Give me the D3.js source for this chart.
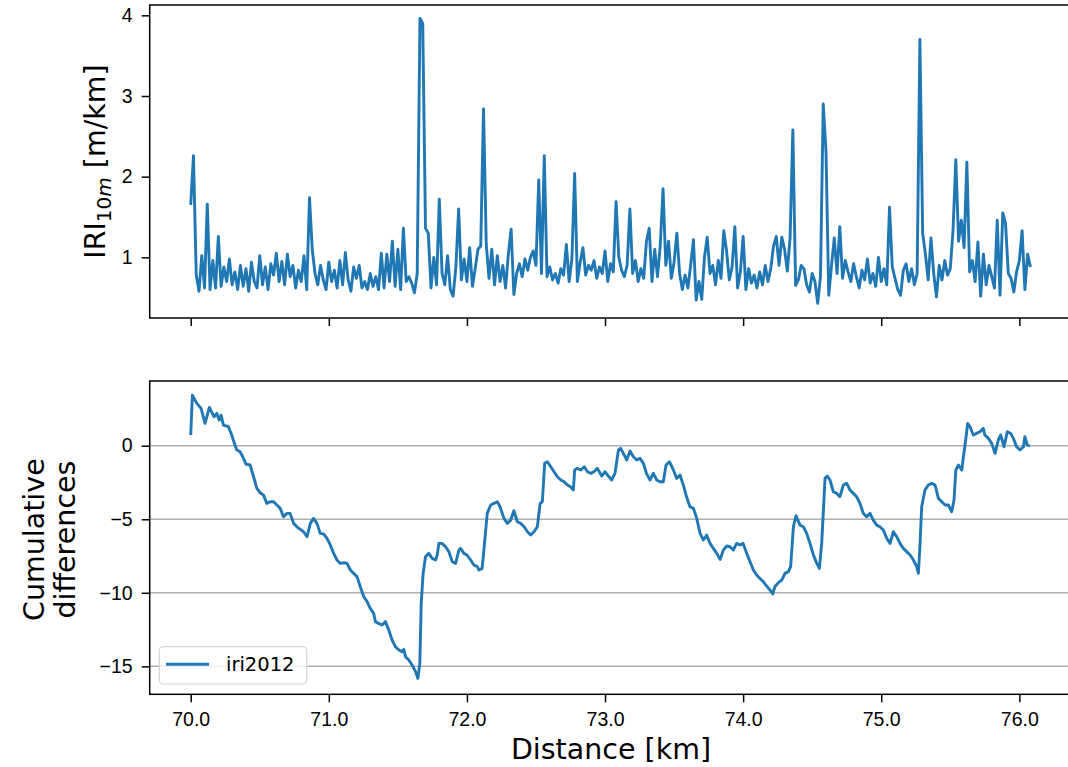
<!DOCTYPE html>
<html lang="en">
<head>
  <meta charset="UTF-8" />
  <title>IRI and cumulative differences</title>
  <style>
    body {
      margin: 0;
      background: #fff;
    }
    svg {
      display: block;
      font-family: 'DejaVu Sans', sans-serif;
    }
    .tick text {
      font-size: 19.5px;
      fill: #000;
    }
    .tick line {
      stroke: #000;
      stroke-width: 1.5px;
    }
    .frame {
      fill: none;
      stroke: #000;
      stroke-width: 1.5px;
    }
    .grid {
      stroke: #b0b0b0;
      stroke-width: 1.5px;
    }
    .series {
      fill: none;
      stroke: #1f77b4;
      stroke-width: 2.9px;
      stroke-linejoin: round;
    }
    .label {
      font-size: 28.5px;
      fill: #000;
    }
  </style>
</head>
<body>
  <svg id="chart" width="1068" height="767"></svg>

  <script src="https://cdnjs.cloudflare.com/ajax/libs/d3/7.8.5/d3.min.js"></script>
  <script>
    const iriStartKm = 70.0;
    const iriStepKm = 0.02;
    const iriValues = [
      1.65, 2.26, 0.78, 0.58, 1.02,  0.62, 1.66, 0.60, 0.96, 0.62,
      1.26, 0.64, 0.88, 0.70, 0.98,  0.66, 0.82, 0.60, 0.90, 0.64,
      0.86, 0.58, 0.94, 0.70, 0.62,  1.02, 0.66, 0.88, 0.60, 0.92,
      0.78, 1.05, 0.70, 0.95, 0.66,  1.04, 0.76, 0.90, 0.62, 0.84,
      0.70, 1.02, 0.60, 1.74, 1.10,  0.80, 0.66, 0.90, 0.72, 0.60,
      0.94, 0.70, 0.84, 0.62, 0.96,  0.66, 1.06, 0.72, 0.58, 0.88,
      0.74, 0.90, 0.62, 0.70, 0.60,  0.80, 0.64, 0.76, 0.60, 1.05,
      0.62, 1.04, 0.70, 1.20, 0.64,  1.10, 0.60, 1.36, 0.70, 0.76,
      0.68, 0.56, 0.80, 3.96, 3.90,  1.36, 1.30, 0.62, 1.00, 0.66,
      1.72, 0.80, 0.66, 1.02, 0.60,  0.52, 0.88, 1.60, 0.72, 0.98,
      0.70, 1.12, 0.64, 0.86, 1.10,  1.14, 2.84, 1.16, 0.74, 1.10,
      0.66, 1.02, 0.70, 0.90, 0.62,  1.04, 1.35, 0.54, 0.80, 0.92,
      0.76, 0.98, 0.84, 1.00, 1.08,  0.90, 1.96, 0.80, 2.26, 0.76,
      0.88, 0.72, 0.80, 0.68, 0.86,  0.78, 1.16, 0.70, 0.98, 2.04,
      0.70, 0.94, 1.12, 0.78, 0.90,  0.84, 0.96, 0.74, 0.88, 0.80,
      1.08, 0.70, 0.92, 0.82, 1.69,  1.00, 0.84, 0.76, 0.90, 1.60,
      0.80, 0.96, 0.70, 0.86, 0.74,  1.20, 1.36, 0.70, 1.10, 0.76,
      1.15, 1.85, 0.90, 1.20, 0.74,  0.94, 1.30, 0.80, 0.60, 0.78,
      0.62, 0.90, 1.22, 0.47, 0.70,  0.48, 1.00, 1.25, 0.80, 0.90,
      0.66, 0.96, 0.74, 1.33, 1.08,  0.72, 0.88, 1.38, 0.62, 0.82,
      1.26, 0.60, 0.86, 0.68, 0.78,  0.62, 0.82, 0.66, 0.90, 0.70,
      0.86, 1.14, 1.26, 0.90, 1.25,  1.10, 0.83, 1.24, 2.58, 0.65,
      0.72, 0.90, 0.86, 0.66, 0.57,  0.80, 0.70, 0.43, 0.76, 2.90,
      2.31, 0.53, 0.90, 1.24, 0.80,  1.38, 0.74, 0.96, 0.82, 0.70,
      0.92, 0.76, 0.62, 0.84, 0.72,  0.98, 0.68, 0.80, 0.64, 1.00,
      0.70, 0.86, 0.66, 1.62, 0.88,  0.74, 0.60, 0.53, 0.84, 0.92,
      0.70, 0.86, 0.66, 0.80, 3.70,  1.30, 1.04, 0.72, 1.24, 0.80,
      0.51, 0.90, 0.72, 0.96, 0.78,  0.86, 1.34, 2.21, 1.20, 1.46,
      1.12, 2.18, 0.82, 0.96, 0.70,  1.19, 0.52, 1.04, 0.66, 0.90,
      0.76, 0.62, 1.46, 0.53, 1.55,  1.42, 0.80, 0.74, 0.57, 0.82,
      0.96, 1.33, 0.60, 1.04, 0.88
    ];

    // cumulative differences, [km, value]
    const cumPoints = [
      [70.000, 0.73], [70.012, 3.44], [70.044, 2.88], [70.075, 2.54], [70.104, 1.52], [70.135, 2.60], [70.169, 1.97], [70.189, 2.20], [70.206, 1.74], [70.220, 2.08],
      [70.237, 1.40], [70.273, 1.29], [70.297, 0.73], [70.320, 0.05], [70.334, -0.29], [70.358, -0.41], [70.382, -0.86], [70.400, -1.25], [70.430, -1.31], [70.455, -2.11],
      [70.479, -2.90], [70.503, -3.20], [70.527, -3.36], [70.551, -3.92], [70.575, -3.81], [70.600, -3.81], [70.624, -4.03], [70.648, -4.26], [70.672, -4.83], [70.697, -4.60],
      [70.720, -4.60], [70.745, -5.28], [70.769, -5.51], [70.793, -5.69], [70.817, -5.85], [70.842, -6.19], [70.866, -5.28], [70.890, -4.94], [70.914, -5.28], [70.938, -5.96],
      [70.962, -6.00], [70.987, -6.30], [71.011, -6.75], [71.035, -7.32], [71.059, -7.77], [71.083, -8.00], [71.108, -7.96], [71.132, -8.00], [71.156, -8.45], [71.180, -8.68],
      [71.204, -8.90], [71.228, -9.59], [71.253, -10.27], [71.277, -10.60], [71.300, -11.06], [71.325, -11.40], [71.337, -11.96], [71.360, -12.08], [71.386, -12.19], [71.410, -11.96],
      [71.434, -12.53], [71.458, -13.21], [71.482, -13.66], [71.507, -13.89], [71.530, -14.00], [71.543, -13.85], [71.555, -14.34], [71.579, -14.57], [71.603, -14.91], [71.628, -15.36],
      [71.645, -15.82], [71.659, -14.80], [71.669, -10.72], [71.683, -8.68], [71.700, -7.55], [71.724, -7.32], [71.748, -7.66], [71.773, -7.77], [71.785, -7.43], [71.797, -6.64],
      [71.820, -6.64], [71.845, -6.87], [71.869, -7.20], [71.894, -7.89], [71.918, -8.00], [71.942, -7.09], [71.954, -6.98], [71.978, -7.32], [72.000, -7.43], [72.027, -7.77],
      [72.050, -8.11], [72.075, -8.22], [72.087, -8.45], [72.110, -8.34], [72.123, -7.09], [72.147, -4.60], [72.172, -4.03], [72.196, -3.92], [72.220, -3.81], [72.240, -4.15],
      [72.268, -4.94], [72.293, -5.28], [72.317, -5.06], [72.340, -4.42], [72.365, -5.17], [72.389, -5.28], [72.414, -5.51], [72.438, -5.85], [72.462, -6.07], [72.486, -5.85],
      [72.510, -5.51], [72.530, -3.92], [72.546, -3.81], [72.563, -1.20], [72.583, -1.09], [72.607, -1.43], [72.631, -1.77], [72.655, -2.11], [72.680, -2.33], [72.704, -2.45],
      [72.728, -2.67], [72.750, -2.79], [72.771, -3.01], [72.780, -1.65], [72.800, -1.54], [72.825, -1.65], [72.850, -1.43], [72.873, -1.77], [72.897, -1.88], [72.920, -1.77],
      [72.945, -1.54], [72.976, -2.06], [73.000, -1.77], [73.024, -2.06], [73.048, -2.33], [73.072, -1.88], [73.097, -0.29], [73.113, -0.18], [73.133, -0.52], [73.157, -0.97],
      [73.181, -0.36], [73.205, -0.75], [73.230, -0.97], [73.253, -0.86], [73.278, -1.20], [73.300, -1.88], [73.326, -2.33], [73.350, -1.88], [73.374, -2.33], [73.398, -2.45],
      [73.422, -2.45], [73.442, -1.31], [73.466, -1.09], [73.495, -1.65], [73.519, -2.22], [73.543, -2.00], [73.567, -2.67], [73.590, -3.47], [73.615, -4.15], [73.640, -4.26],
      [73.664, -4.94], [73.688, -5.96], [73.712, -6.41], [73.736, -6.07], [73.760, -6.64], [73.784, -6.98], [73.809, -7.32], [73.833, -7.73], [73.857, -7.09], [73.881, -6.82],
      [73.905, -6.87], [73.929, -7.09], [73.953, -6.64], [73.978, -6.75], [74.000, -6.64], [74.026, -7.32], [74.050, -7.89], [74.074, -8.45], [74.098, -8.79], [74.122, -9.02],
      [74.147, -9.25], [74.170, -9.54], [74.195, -9.82], [74.214, -10.08], [74.230, -9.59], [74.255, -9.31], [74.280, -9.13], [74.303, -8.68], [74.328, -8.56], [74.344, -8.22],
      [74.364, -5.50], [74.383, -4.76], [74.412, -5.40], [74.436, -5.51], [74.460, -5.96], [74.484, -6.64], [74.509, -7.43], [74.533, -8.00], [74.552, -8.34], [74.569, -6.64],
      [74.593, -2.22], [74.610, -2.06], [74.629, -2.33], [74.653, -3.13], [74.678, -3.24], [74.700, -3.47], [74.726, -2.67], [74.750, -2.56], [74.774, -3.01], [74.798, -3.24],
      [74.822, -3.47], [74.846, -3.92], [74.870, -4.60], [74.895, -4.83], [74.919, -4.60], [74.943, -5.06], [74.967, -5.40], [74.990, -5.51], [75.015, -5.73], [75.040, -6.30],
      [75.064, -6.64], [75.088, -5.85], [75.112, -6.19], [75.136, -6.64], [75.160, -6.98], [75.184, -7.20], [75.209, -7.43], [75.233, -7.77], [75.257, -8.22], [75.269, -8.68],
      [75.280, -6.87], [75.293, -4.15], [75.317, -3.00], [75.341, -2.67], [75.365, -2.56], [75.390, -2.67], [75.414, -3.58], [75.438, -3.81], [75.462, -4.03], [75.486, -4.03],
      [75.510, -4.49], [75.527, -3.70], [75.540, -1.65], [75.559, -1.31], [75.583, -1.65], [75.595, -0.75], [75.607, 0.05], [75.626, 1.52], [75.643, 1.29], [75.667, 0.73],
      [75.690, 0.84], [75.715, 0.95], [75.739, 1.18], [75.750, 0.73], [75.776, 0.50], [75.800, 0.16], [75.824, -0.52], [75.848, 0.39], [75.865, 0.73], [75.889, -0.07],
      [75.913, 0.95], [75.937, 0.84], [75.957, 0.50], [75.980, -0.07], [76.005, -0.29], [76.030, -0.07], [76.040, 0.61], [76.058, 0.05], [76.077, -0.02]
    ];

    const xTicks = [70, 71, 72, 73, 74, 75, 76];
    const iriTicks = [1, 2, 3, 4];
    const cumTicks = [-15, -10, -5, 0];
    const seriesName = "iri2012";

    // axis limits as seen on the figure
    const xDomain = [69.703, 76.39];
    const iriDomain = [0.248, 4.128];
    const cumDomain = [-16.90, 4.40];

    const left = 149.7, right = 1073.2;
    const top1 = 5, bottom1 = 318;
    const top2 = 381, bottom2 = 694.3;

    const svg = d3.select("#chart");

    const x = d3.scaleLinear().domain(xDomain).range([left, right]);
    const yIri = d3.scaleLinear().domain(iriDomain).range([bottom1, top1]);
    const yCum = d3.scaleLinear().domain(cumDomain).range([bottom2, top2]);

    const iriData = iriValues.map((v, i) => ({ km: iriStartKm + i * iriStepKm, v }));
    const cumData = cumPoints.map(([km, v]) => ({ km, v }));

    function styleAxis(g) {
      g.select(".domain").remove();
      g.selectAll(".tick text").attr("font-family", null).attr("font-size", null);
    }

    // ---- top panel ----
    svg.append("g")
      .attr("transform", `translate(0,${bottom1})`)
      .call(d3.axisBottom(x).tickValues(xTicks).tickSize(8).tickFormat(""))
      .call(styleAxis);

    svg.append("g")
      .attr("transform", `translate(${left},0)`)
      .call(d3.axisLeft(yIri).tickValues(iriTicks).tickSize(8).tickPadding(9).tickFormat(d3.format("d")))
      .call(styleAxis);

    svg.append("path")
      .datum(iriData)
      .attr("class", "series")
      .attr("d", d3.line().x(d => x(d.km)).y(d => yIri(d.v)));

    svg.append("rect")
      .attr("class", "frame")
      .attr("x", left).attr("y", top1)
      .attr("width", right - left).attr("height", bottom1 - top1);

    svg.append("text")
      .attr("class", "label")
      .attr("text-anchor", "middle")
      .attr("transform", `translate(105,${(top1 + bottom1) / 2}) rotate(-90)`)
      .call(t => {
        t.append("tspan").text("IRI");
        t.append("tspan").attr("dy", 6).attr("font-size", 20).text("10");
        t.append("tspan").attr("font-size", 20).attr("font-style", "italic").text("m");
        t.append("tspan").attr("dy", -6).text(" [m/km]");
      });

    // ---- bottom panel ----
    svg.append("g")
      .selectAll("line")
      .data(cumTicks)
      .join("line")
      .attr("class", "grid")
      .attr("x1", left).attr("x2", right)
      .attr("y1", d => yCum(d)).attr("y2", d => yCum(d));

    svg.append("g")
      .attr("transform", `translate(0,${bottom2})`)
      .call(d3.axisBottom(x).tickValues(xTicks).tickSize(8).tickPadding(9.5).tickFormat(d3.format(".1f")))
      .call(styleAxis);

    svg.append("g")
      .attr("transform", `translate(${left},0)`)
      .call(d3.axisLeft(yCum).tickValues(cumTicks).tickSize(8).tickPadding(9).tickFormat(d3.format("d")))
      .call(styleAxis);

    svg.append("path")
      .datum(cumData)
      .attr("class", "series")
      .attr("d", d3.line().x(d => x(d.km)).y(d => yCum(d.v)));

    svg.append("rect")
      .attr("class", "frame")
      .attr("x", left).attr("y", top2)
      .attr("width", right - left).attr("height", bottom2 - top2);

    const midCum = (top2 + bottom2) / 2 + 2;
    ["Cumulative", "differences"].forEach((line, i) => {
      svg.append("text")
        .attr("class", "label")
        .attr("text-anchor", "middle")
        .attr("transform", `translate(${43.5 + i * 31},${midCum}) rotate(-90)`)
        .text(line);
    });

    svg.append("text")
      .attr("class", "label")
      .attr("text-anchor", "middle")
      .attr("x", 611)
      .attr("y", 759)
      .text("Distance [km]");

    // legend
    const legend = svg.append("g");
    legend.append("rect")
      .attr("x", 159.3).attr("y", 646.7)
      .attr("width", 147.4).attr("height", 37.3)
      .attr("rx", 4)
      .attr("fill", "#fff").attr("fill-opacity", 0.8)
      .attr("stroke", "#d5d5d5").attr("stroke-width", 1.2);
    legend.append("line")
      .attr("x1", 166).attr("x2", 209)
      .attr("y1", 664.3).attr("y2", 664.3)
      .attr("stroke", "#1f77b4").attr("stroke-width", 2.9);
    legend.append("text")
      .attr("x", 226).attr("y", 671.3)
      .attr("font-size", 19.5)
      .text(seriesName);
  </script>
</body>
</html>
